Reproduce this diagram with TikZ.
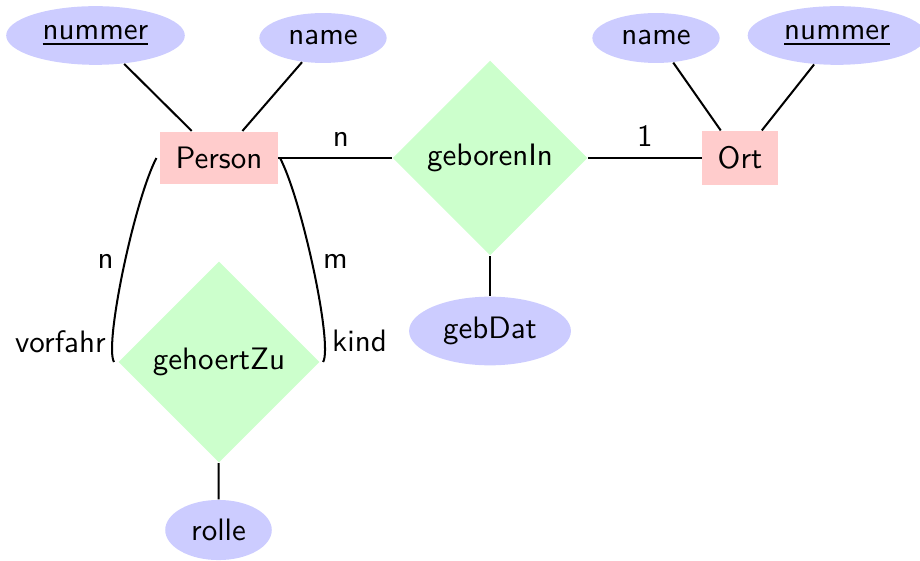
\documentclass[tikz,border=0pt]{standalone}
\usetikzlibrary{shapes.geometric}
\begin{document}
\begin{tikzpicture}[x=0.3226pt,y=-0.3226pt, font=\sffamily,
  entity/.style={rectangle, fill=red!20, inner sep=5pt},
  relation/.style={diamond, aspect=1, fill=green!20, inner sep=3.33pt},
  attr/.style={ellipse, fill=blue!20},
  conn/.style={line width=0.65pt}]
\useasboundingbox (0,0) rectangle (920,561);
% entities
\node[entity] (person) at (219,158) {Person};
\node[entity] (ort) at (740,158) {Ort};
% relations
\node[relation] (geboren) at (490,158) {geborenIn};
\node[relation] (gehoert) at (219,362) {gehoertZu};
% attributes
\node[attr] (pnummer) at (95.5,35.5) {\underline{nummer}};
\node[attr] (pname) at (323,38) {name};
\node[attr] (oname) at (656,38) {name};
\node[attr] (onummer) at (837,35.5) {\underline{nummer}};
\node[attr] (gebdat) at (490,331) {gebDat};
\node[attr] (rolle) at (218.5,530) {rolle};
% connectors
\draw[conn] (pnummer) -- (person);
\draw[conn] (pname) -- (person);
\draw[conn] (oname) -- (ort);
\draw[conn] (onummer) -- (ort);
\draw[conn] (person) -- node[pos=0.55, above] {n} (geboren);
\draw[conn] (geboren) -- node[midway, above] {1} (ort);
\draw[conn] (geboren) -- (gebdat);
\draw[conn] (gehoert) -- (rolle);
\draw[conn] ([xshift=-1pt]person.west) .. controls +(-22,42) and +(-10,-17) ..
  node[pos=0.47, anchor=east] {n}
  node[pos=0.8, anchor=east, xshift=1.5pt, yshift=-1pt] {vorfahr}
  ([xshift=-1.2pt]gehoert.west);
\draw[conn] ([xshift=0.5pt]person.east) .. controls +(22,42) and +(10,-17) ..
  node[pos=0.47, anchor=west] {m}
  node[pos=0.8, anchor=west, xshift=-1.2pt, yshift=-1pt] {kind}
  ([xshift=0.9pt]gehoert.east);
\end{tikzpicture}
\end{document}
